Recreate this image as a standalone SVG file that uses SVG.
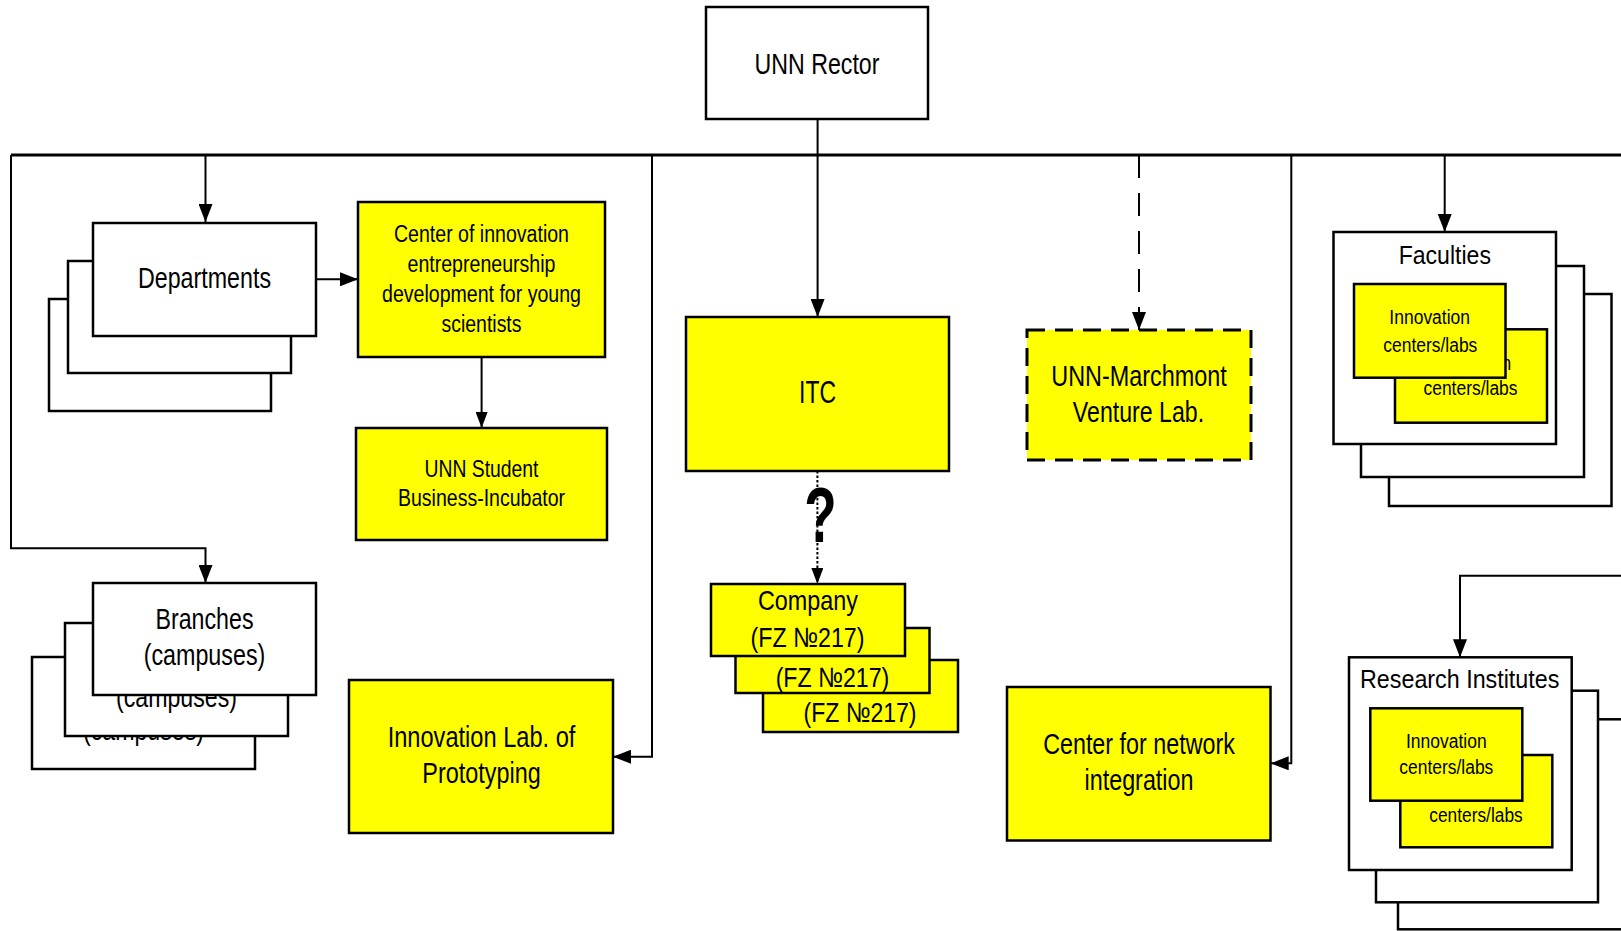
<svg xmlns="http://www.w3.org/2000/svg" width="1621" height="931" viewBox="0 0 1621 931">
<style>
.b{fill:#fff;stroke:#000;stroke-width:2.5}
.y{fill:#ffff00;stroke:#000;stroke-width:2.5}
.yd{fill:#ffff00;stroke:#000;stroke-width:3;stroke-dasharray:18 10}
text{font-family:"Liberation Sans",Arial,sans-serif;fill:#000;text-anchor:middle}
.c{fill:none;stroke:#000;stroke-width:2}
</style>
<defs>
<marker id="ah" markerUnits="userSpaceOnUse" markerWidth="18" markerHeight="14" refX="18" refY="7" orient="auto">
<path d="M0,0 L18,7 L0,14 z" fill="#000"/>
</marker>
<marker id="ahs" markerUnits="userSpaceOnUse" markerWidth="16" markerHeight="12" refX="16" refY="6" orient="auto">
<path d="M0,0 L16,6 L0,12 z" fill="#000"/>
</marker>
</defs>

<g id="rector">
<rect class="b" x="706" y="7" width="222" height="112"/>
<text x="817" y="74" font-size="29" textLength="125" lengthAdjust="spacingAndGlyphs">UNN Rector</text>
</g>

<g id="departments">
<rect class="b" x="49" y="299" width="222" height="112"/>
<rect class="b" x="68" y="261" width="223" height="112"/>
<rect class="b" x="93" y="223" width="223" height="113"/>
<text x="204.5" y="288" font-size="29" textLength="133" lengthAdjust="spacingAndGlyphs">Departments</text>
</g>

<g id="center-innovation">
<rect class="y" x="358" y="202" width="247" height="155"/>
<text x="481.5" y="242" font-size="23" textLength="175" lengthAdjust="spacingAndGlyphs">Center of innovation</text>
<text x="481.5" y="272" font-size="23" textLength="148" lengthAdjust="spacingAndGlyphs">entrepreneurship</text>
<text x="481.5" y="302" font-size="23" textLength="199" lengthAdjust="spacingAndGlyphs">development for young</text>
<text x="481.5" y="332" font-size="23" textLength="80" lengthAdjust="spacingAndGlyphs">scientists</text>
</g>

<g id="incubator">
<rect class="y" x="356" y="428" width="251" height="112"/>
<text x="481.5" y="477" font-size="24" textLength="114" lengthAdjust="spacingAndGlyphs">UNN Student</text>
<text x="481.5" y="506" font-size="24" textLength="167" lengthAdjust="spacingAndGlyphs">Business-Incubator</text>
</g>

<g id="branches">
<rect class="b" x="32" y="657" width="223" height="112"/>
<text x="143.5" y="740" font-size="29" textLength="121" lengthAdjust="spacingAndGlyphs">(campuses)</text>
<rect class="b" x="65" y="623" width="223" height="113"/>
<text x="176.5" y="706.7" font-size="29" textLength="121" lengthAdjust="spacingAndGlyphs">(campuses)</text>
<rect class="b" x="93" y="583" width="223" height="112"/>
<text x="204.5" y="629.3" font-size="29" textLength="98" lengthAdjust="spacingAndGlyphs">Branches</text>
<text x="204.5" y="665" font-size="29" textLength="121.6" lengthAdjust="spacingAndGlyphs">(campuses)</text>
</g>

<g id="innovation-lab">
<rect class="y" x="349" y="680" width="264" height="153"/>
<text x="481.5" y="747.3" font-size="29" textLength="187.7" lengthAdjust="spacingAndGlyphs">Innovation Lab. of</text>
<text x="481.5" y="783.3" font-size="29" textLength="118.4" lengthAdjust="spacingAndGlyphs">Prototyping</text>
</g>

<g id="itc">
<rect class="y" x="686" y="317" width="263" height="154"/>
<text x="817.6" y="402.7" font-size="31" textLength="37" lengthAdjust="spacingAndGlyphs">ITC</text>
</g>

<g id="question">
<text transform="translate(820.5,541.7) scale(0.68,1)" font-size="78" font-weight="bold">?</text>
</g>

<g id="company">
<rect class="y" x="763" y="660" width="195" height="72"/>
<text x="860" y="721.7" font-size="28" textLength="113" lengthAdjust="spacingAndGlyphs">(FZ №217)</text>
<rect class="y" x="735.5" y="628" width="194" height="65"/>
<text x="832.5" y="686.7" font-size="28" textLength="113.7" lengthAdjust="spacingAndGlyphs">(FZ №217)</text>
<rect class="y" x="711" y="584" width="194" height="72"/>
<text x="808" y="610" font-size="28" textLength="100" lengthAdjust="spacingAndGlyphs">Company</text>
<text x="807.5" y="646.7" font-size="28" textLength="114" lengthAdjust="spacingAndGlyphs">(FZ №217)</text>
</g>

<g id="marchmont">
<rect class="yd" x="1027" y="330" width="224" height="130"/>
<text x="1139" y="386" font-size="30" textLength="175.5" lengthAdjust="spacingAndGlyphs">UNN-Marchmont</text>
<text x="1138.5" y="421.7" font-size="30" textLength="131.3" lengthAdjust="spacingAndGlyphs">Venture Lab.</text>
</g>

<g id="network-center">
<rect class="y" x="1007" y="687" width="263.5" height="153.5"/>
<text x="1139" y="754" font-size="29" textLength="191.7" lengthAdjust="spacingAndGlyphs">Center for network</text>
<text x="1139" y="790" font-size="29" textLength="109" lengthAdjust="spacingAndGlyphs">integration</text>
</g>

<g id="faculties">
<rect class="b" x="1389" y="294" width="222.5" height="212"/>
<rect class="b" x="1361" y="266" width="223" height="211"/>
<rect class="b" x="1333.5" y="232" width="222.5" height="212"/>
<text x="1444.8" y="264" font-size="26.5" textLength="92.3" lengthAdjust="spacingAndGlyphs">Faculties</text>
<rect class="y" x="1395" y="329.3" width="152" height="93.4"/>
<text x="1471" y="369.5" font-size="20" textLength="80.7" lengthAdjust="spacingAndGlyphs">Innovation</text>
<text x="1470.5" y="395" font-size="20" textLength="94" lengthAdjust="spacingAndGlyphs">centers/labs</text>
<rect class="y" x="1354" y="284" width="151.5" height="93.7"/>
<text x="1429.7" y="324.3" font-size="20" textLength="80.7" lengthAdjust="spacingAndGlyphs">Innovation</text>
<text x="1430.3" y="351.7" font-size="20" textLength="94" lengthAdjust="spacingAndGlyphs">centers/labs</text>
</g>

<g id="research-institutes">
<rect class="b" x="1398" y="719.3" width="240" height="210"/>
<rect class="b" x="1376" y="690.7" width="222" height="211.6"/>
<rect class="b" x="1349" y="657.3" width="222.7" height="212.7"/>
<text x="1459.7" y="688.3" font-size="26" textLength="199.3" lengthAdjust="spacingAndGlyphs">Research Institutes</text>
<rect class="y" x="1400.3" y="755" width="152" height="92.3"/>
<text x="1476" y="821.7" font-size="20" textLength="93.4" lengthAdjust="spacingAndGlyphs">centers/labs</text>
<rect class="y" x="1370.3" y="708.3" width="152" height="92.4"/>
<text x="1446.3" y="748.3" font-size="20" textLength="80.7" lengthAdjust="spacingAndGlyphs">Innovation</text>
<text x="1446.3" y="774" font-size="20" textLength="94" lengthAdjust="spacingAndGlyphs">centers/labs</text>
</g>

<g id="connectors">
<line x1="11" y1="155" x2="1621" y2="155" stroke="#000" stroke-width="3"/>
<line class="c" x1="817.6" y1="119" x2="817.6" y2="317" stroke-width="2.5" marker-end="url(#ah)"/>
<polyline class="c" points="11,155 11,548.3 205.5,548.3 205.5,583" marker-end="url(#ah)"/>
<line class="c" x1="205.5" y1="155" x2="205.5" y2="222" marker-end="url(#ah)"/>
<line class="c" x1="316" y1="279.3" x2="358" y2="279.3" stroke-width="3" marker-end="url(#ah)"/>
<line class="c" x1="481.6" y1="357" x2="481.6" y2="428" stroke-width="1.5" marker-end="url(#ahs)"/>
<polyline class="c" points="652,155 652,756.7 613,756.7" marker-end="url(#ah)"/>
<line class="c" x1="817.4" y1="471" x2="817.4" y2="584" stroke-width="1.3" stroke-dasharray="2.5 2" marker-end="url(#ahs)"/>
<line class="c" x1="1139" y1="155" x2="1139" y2="330" stroke-dasharray="23 15" marker-end="url(#ah)"/>
<polyline class="c" points="1291.3,155 1291.3,763.3 1270.7,763.3" marker-end="url(#ah)"/>
<line class="c" x1="1444.7" y1="155" x2="1444.7" y2="232" marker-end="url(#ah)"/>
<polyline class="c" points="1621,575.7 1460,575.7 1460,657.3" marker-end="url(#ah)"/>
</g>
</svg>
